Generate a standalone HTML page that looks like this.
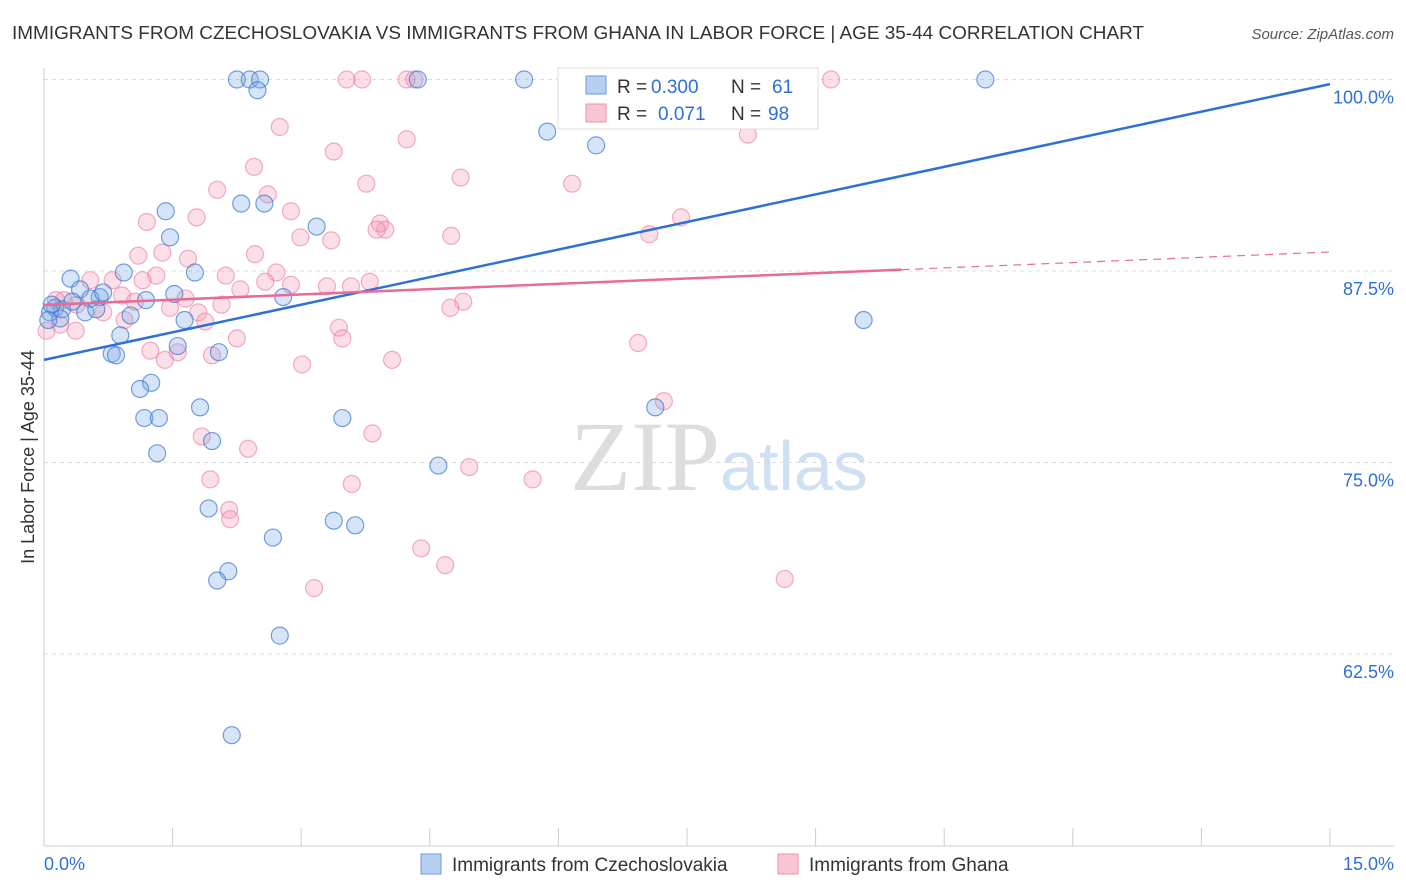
<!DOCTYPE html>
<html><head><meta charset="utf-8"><style>
body{margin:0;background:#fff;font-family:"Liberation Sans",sans-serif;}
svg{display:block}
</style></head><body>
<svg id="chart" width="1406" height="892">
<text x="12" y="39" font-size="18" fill="#333" textLength="1132" lengthAdjust="spacingAndGlyphs">IMMIGRANTS FROM CZECHOSLOVAKIA VS IMMIGRANTS FROM GHANA IN LABOR FORCE | AGE 35-44 CORRELATION CHART</text>
<text x="1394" y="39" font-size="15" fill="#555" text-anchor="end" font-style="italic">Source: ZipAtlas.com</text>
<text x="720" y="490" font-size="100" fill="#ddd" text-anchor="end" font-family="Liberation Serif">ZIP</text>
<text x="720" y="490" font-size="70" fill="#cfe0f3">atlas</text>
<text transform="translate(34,457) rotate(-90)" font-size="18" fill="#333" text-anchor="middle">In Labor Force | Age 35-44</text>
<g id="grid"></g><g id="marks"></g><g id="lines"></g>
<g>
<rect x="558" y="68" width="260" height="61" fill="#fff" stroke="#ddd"/>
<rect x="586" y="76" width="20" height="18" fill="#b7d0f2" stroke="#6a9be0"/>
<rect x="586" y="104" width="20" height="18" fill="#f8c5d3" stroke="#ef8fab"/>
<text x="617" y="93" font-size="19" fill="#333">R =</text>
<text x="651" y="93" font-size="19" fill="#2e6fd8">0.300</text>
<text x="731" y="93" font-size="19" fill="#333">N =</text>
<text x="772" y="93" font-size="19" fill="#2e6fd8">61</text>
<text x="617" y="120" font-size="19" fill="#333">R =</text>
<text x="658" y="120" font-size="19" fill="#2e6fd8">0.071</text>
<text x="731" y="120" font-size="19" fill="#333">N =</text>
<text x="768" y="120" font-size="19" fill="#2e6fd8">98</text>
</g>
<g>
<rect x="421" y="854" width="20" height="20" fill="#b7d0f2" stroke="#6a9be0"/>
<text x="452" y="871" font-size="19" fill="#333">Immigrants from Czechoslovakia</text>
<rect x="778" y="854" width="20" height="20" fill="#f8c5d3" stroke="#ef8fab"/>
<text x="809" y="871" font-size="19" fill="#333">Immigrants from Ghana</text>
</g>
<text x="44" y="870" font-size="18" fill="#2e6fd8">0.0%</text>
<text x="1394" y="870" font-size="18" fill="#2e6fd8" text-anchor="end">15.0%</text>
</svg>
<script>
const yTicks=[100,87.5,75,62.5];
const yTickLabels=["100.0%","87.5%","75.0%","62.5%"];
const blueX=[2.25,2.40,2.52,2.49,4.36,5.6,8.18,8.46,10.98,5.87,6.44,2.30,2.57,1.42,3.18,1.47,0.93,1.76,0.31,0.42,0.65,1.19,1.52,2.79,0.13,0.21,0.07,0.48,0.61,1.01,1.64,9.56,0.89,1.56,2.04,0.79,0.84,1.25,1.12,1.82,7.13,1.17,1.34,3.48,1.96,1.32,4.6,1.92,3.38,3.63,2.67,2.15,2.02,2.75,2.19,0.09,0.19,0.33,0.54,0.69,0.05];
const blueY=[100,100,100,99.3,100,100,100,100,100,96.6,95.7,91.9,91.9,91.4,90.4,89.7,87.4,87.4,87.0,86.3,85.8,85.6,86.0,85.8,85.1,85.0,84.8,84.8,85.0,84.6,84.3,84.3,83.3,82.6,82.2,82.1,82.0,80.2,79.8,78.6,78.6,77.9,77.9,77.9,76.4,75.6,74.8,72.0,71.2,70.9,70.1,67.9,67.3,63.7,57.2,85.3,84.4,85.5,85.7,86.1,84.3];
const pinkX=[3.53,3.71,4.23,4.32,9.18,8.21,2.75,4.23,3.38,2.45,4.86,6.16,3.76,2.02,2.61,2.88,1.78,1.20,7.43,3.92,3.98,3.88,7.06,4.75,2.99,3.35,1.10,1.38,1.68,2.46,2.71,2.12,0.54,0.80,1.15,1.31,2.58,2.88,3.30,3.58,3.80,2.29,0.91,1.65,1.06,0.23,0.38,4.89,4.74,1.80,2.07,1.47,0.69,0.94,1.88,0.37,0.03,3.44,3.48,2.25,6.93,1.24,1.56,1.41,1.96,4.06,3.01,7.23,1.84,3.83,2.38,4.96,5.70,1.94,3.59,2.16,2.17,4.40,4.68,8.64,3.15,0.14,0.19];
const pinkY=[100,100,100,100,100,96.4,96.9,96.1,95.3,94.3,93.6,93.2,93.2,92.8,92.5,91.4,91.0,90.7,91.0,90.6,90.2,90.2,89.9,89.8,89.7,89.5,88.5,88.7,88.3,88.6,87.4,87.2,86.9,86.9,86.9,87.2,86.8,86.6,86.5,86.5,86.8,86.3,85.9,85.7,85.5,85.6,85.3,85.5,85.1,84.8,85.3,85.1,84.8,84.3,84.2,83.6,83.6,83.8,83.1,83.1,82.8,82.3,82.2,81.7,82.0,81.7,81.4,79.0,76.7,76.9,75.9,74.7,73.9,73.9,73.6,71.9,71.3,69.4,68.3,67.4,66.8,85.6,84.0];
const blueTrend=[81.7,99.7];
const pinkTrend=[85.28,88.74];
const pinkSolidEnd=10;
const X=v=>44+v*(1330-44)/15;
const Y=v=>845.5-(v-50)*15.32;
const NS="http://www.w3.org/2000/svg";
function mk(tag,attrs,parent){const e=document.createElementNS(NS,tag);for(const k in attrs)e.setAttribute(k,attrs[k]);parent.appendChild(e);return e;}
const grid=document.getElementById('grid');
yTicks.forEach((t,i)=>{
  const l=mk('line',{x1:44,x2:1394,y1:Y(t),y2:Y(t),stroke:'#ddd','stroke-dasharray':'4,4'},grid);
  
  
  const tx=mk('text',{x:1394,y:Y(t)+24,'font-size':18,fill:'#2e6fd8','text-anchor':'end'},grid);
  tx.textContent=yTickLabels[i];
  
  
});
const ax=mk('line',{x1:44,x2:44,y1:68,y2:846,stroke:'#ccc'},grid);


const bx=mk('line',{x1:44,x2:1394,y1:846,y2:846,stroke:'#ccc'},grid);


for(let i=0;i<=10;i++){const tk=mk('line',{x1:X(i*1.5),x2:X(i*1.5),y1:828,y2:846,stroke:'#ccc'},grid);
  
  }
const marks=document.getElementById('marks');
pinkX.forEach((x,i)=>{const c=mk('circle',{cx:X(x),cy:Y(pinkY[i]),r:8.5,fill:'rgba(243,150,180,0.3)',stroke:'rgba(236,120,155,0.6)','stroke-width':1.2},marks);
  
  });
blueX.forEach((x,i)=>{const c=mk('circle',{cx:X(x),cy:Y(blueY[i]),r:8.5,fill:'rgba(120,165,230,0.3)',stroke:'rgba(60,120,210,0.7)','stroke-width':1.2},marks);
  
  });
const lines=document.getElementById('lines');
const bl=mk('line',{x1:X(0),y1:Y(blueTrend[0]),x2:X(15),y2:Y(blueTrend[1]),stroke:'#2e6fd8','stroke-width':2.5},lines);


const pm=pinkTrend[0]+(pinkTrend[1]-pinkTrend[0])*pinkSolidEnd/15;
const pl=mk('line',{x1:X(0),y1:Y(pinkTrend[0]),x2:X(pinkSolidEnd),y2:Y(pm),stroke:'#e86b95','stroke-width':2.5},lines);


const pd=mk('line',{x1:X(pinkSolidEnd),y1:Y(pm),x2:X(15),y2:Y(pinkTrend[1]),stroke:'#e86b95','stroke-width':1.2,'stroke-dasharray':'8,6'},lines);


</script>
</body></html>
